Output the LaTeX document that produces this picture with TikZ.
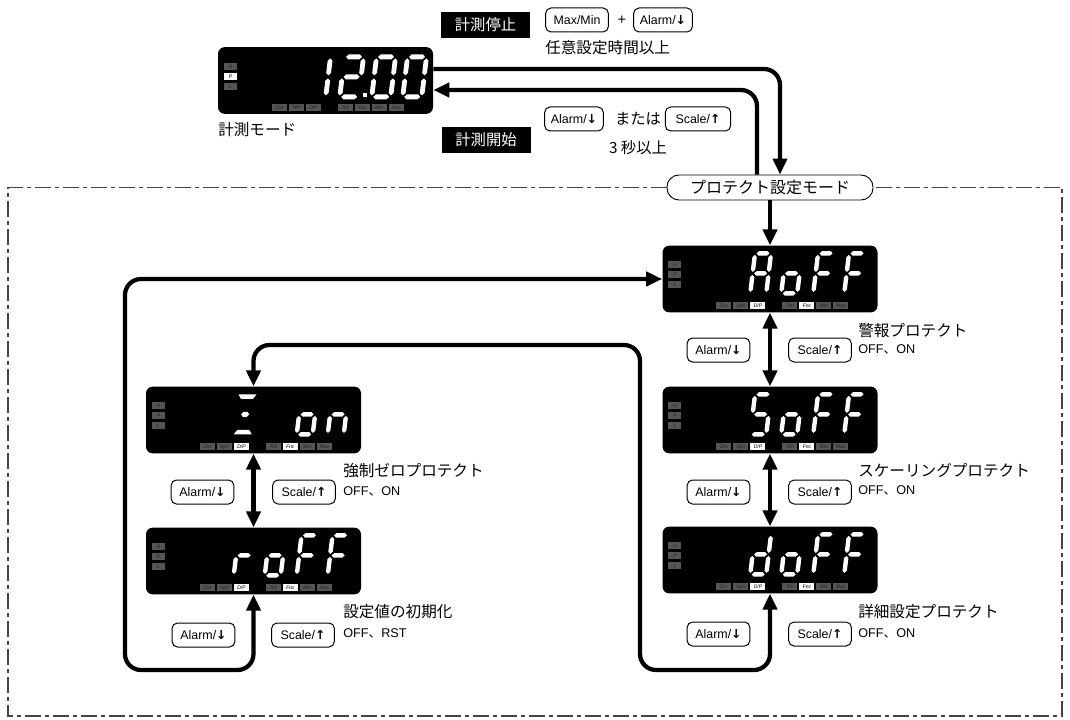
\documentclass[tikz,border=0pt]{standalone}
\usepackage{fontspec}
\setmainfont{Noto Sans CJK JP}
\newfontfamily\latf{Liberation Sans}
\newfontfamily\indf[FakeSlant=0.15]{Liberation Sans}
\newfontfamily\arf{DejaVu Sans}
\usetikzlibrary{arrows.meta,calc}
\definecolor{indg}{HTML}{555555}
\definecolor{indt}{HTML}{222222}
\definecolor{framec}{HTML}{444444}

\newcommand\segT{2.2}
\newcommand\dW{16}
\newcommand\dH{40}
\newcommand\hsg[3]{\fill[white] ({#1},{#3}) -- ({#1+\segT},{#3-\segT}) -- ({#2-\segT},{#3-\segT}) -- ({#2},{#3}) -- ({#2-\segT},{#3+\segT}) -- ({#1+\segT},{#3+\segT}) -- cycle;}
\newcommand\vsg[3]{\fill[white] ({#1},{#2}) -- ({#1+\segT},{#2+\segT}) -- ({#1+\segT},{#3-\segT}) -- ({#1},{#3}) -- ({#1-\segT},{#3-\segT}) -- ({#1-\segT},{#2+\segT}) -- cycle;}
\newcommand\sga{\hsg{1.5}{\dW-1.5}{-\dH}}
\newcommand\sgg{\hsg{1.5}{\dW-1.5}{-\dH/2}}
\newcommand\sgd{\hsg{1.5}{\dW-1.5}{0}}
\newcommand\sgf{\vsg{0}{-\dH+1.5}{-\dH/2-1.5}}
\newcommand\sge{\vsg{0}{-\dH/2+1.5}{-1.5}}
\newcommand\sgb{\vsg{\dW}{-\dH+1.5}{-\dH/2-1.5}}
\newcommand\sgc{\vsg{\dW}{-\dH/2+1.5}{-1.5}}
\newcommand\dig[3]{\begin{scope}[shift={(#1,#2)},xslant=0.12]\foreach \q in {#3}{\csname sg\q\endcsname}\end{scope}}
\newcommand\ibox[7]{\fill[#6] (#1,#2) rectangle ++(#3,#4); \node[inner sep=0pt, text=#7, font=\indf\fontsize{3.8}{4}\selectfont] at ({#1+#3/2},{#2+#4/2}) {#5};}
\newcommand\leds[6]{%
 \ibox{6}{16}{13}{7}{H}{indg}{indt}
 \ibox{6}{26}{13}{7}{P}{#1}{#2}
 \ibox{6}{36}{13}{7}{L}{indg}{indt}
 \ibox{54}{57}{15}{7}{Zro}{indg}{indt}
 \ibox{71}{57}{15}{7}{Spn}{indg}{indt}
 \ibox{88}{57}{15}{7}{D/P}{#3}{#4}
 \ibox{120}{57}{15}{7}{Tch}{indg}{indt}
 \ibox{137}{57}{15}{7}{Fnc}{#5}{#6}
 \ibox{154}{57}{15}{7}{Min}{indg}{indt}
 \ibox{171}{57}{15}{7}{Max}{indg}{indt}}
\newcommand\arD{{\arf\bfseries ↓}}
\newcommand\arU{{\arf\bfseries ↑}}

\begin{document}
\begin{tikzpicture}[x=0.75pt,y=-0.75pt,
  conn/.style={line width=3.2pt, rounded corners=12pt},
  tip/.style={-{Triangle[length=12pt,width=10.5pt]}},
  tips/.style={{Triangle[length=12pt,width=10.5pt]}-{Triangle[length=12pt,width=10.5pt]}},
  disp/.style={fill=black, rounded corners=5pt, minimum width=161.25pt, minimum height=50pt, inner sep=0pt},
  btn/.style={draw, line width=0.75pt, rounded corners=4pt, fill=white, minimum height=18pt, minimum width=47pt, inner xsep=3pt, inner ysep=0pt, font=\latf\fontsize{9.3}{11}\selectfont},
  blk/.style={fill=black, text=white, minimum width=66.75pt, minimum height=20pt, inner sep=0pt, font=\fontsize{11.5}{13}\selectfont},
  ttl/.style={anchor=west, inner sep=0pt, font=\fontsize{11.7}{13}\selectfont},
  sub/.style={anchor=west, inner sep=0pt, font=\latf\fontsize{9.5}{11}\selectfont},
  lbl/.style={inner sep=0pt, font=\fontsize{11.5}{13}\selectfont},
  frame/.style={draw=framec, line width=0.9pt, dash pattern=on 12pt off 3pt on 3pt off 3pt},
]
\useasboundingbox[fill=white] (0,0) rectangle (1070,720);

% dashed frame and mode label
\node[draw, line width=0.7pt, rounded corners=9pt, minimum width=154.5pt, minimum height=18.75pt, fill=white, inner sep=0pt, font=\fontsize{12}{14}\selectfont] (lbl) at (770,187.5) {プロテクト設定モード};
\draw[frame] (lbl.west) -- (8,187.5) -- (8,716) -- (1062,716) -- (1062,187.5) -- (lbl.east);

% displays
\node[disp] (m) at (325.5,80.5) {};
\node[disp] (a) at (770,279) {};
\node[disp] (s) at (770,420) {};
\node[disp] (d) at (770,560) {};
\node[disp] (o) at (253.5,420) {};
\node[disp] (r) at (253.5,561) {};

\begin{scope}[shift={(m.north west)}]
 \leds{white}{black}{indg}{indt}{indg}{indt}
 \def\dW{19}\def\segT{2.4}
 \dig{89}{50}{b,c}
 \dig{122}{50}{a,b,g,e,d}
 \fill[white] (145,46) rectangle (149.5,50);
 \dig{154}{50}{a,b,c,d,e,f}
 \dig{185}{50}{a,b,c,d,e,f}
\end{scope}
\begin{scope}[shift={(a.north west)}]
 \leds{indg}{indt}{white}{black}{white}{black}
 \dig{88}{48}{a,b,c,e,f,g}
 \dig{119}{48}{c,d,e,g}
 \dig{151}{48}{a,e,f,g}
 \dig{182}{48}{a,e,f,g}
\end{scope}
\begin{scope}[shift={(s.north west)}]
 \leds{indg}{indt}{white}{black}{white}{black}
 \dig{88}{48}{a,f,g,c,d}
 \dig{119}{48}{c,d,e,g}
 \dig{151}{48}{a,e,f,g}
 \dig{182}{48}{a,e,f,g}
\end{scope}
\begin{scope}[shift={(d.north west)}]
 \leds{indg}{indt}{white}{black}{white}{black}
 \dig{88}{48}{b,c,d,e,g}
 \dig{119}{48}{c,d,e,g}
 \dig{151}{48}{a,e,f,g}
 \dig{182}{48}{a,e,f,g}
\end{scope}
\begin{scope}[shift={(o.north west)}]
 \leds{indg}{indt}{white}{black}{white}{black}
 \begin{scope}[shift={(88,48)},xslant=0.12]
  \fill[white] (0,-40) -- (18,-40) -- (15,-35.5) -- (3,-35.5) -- cycle;
  \fill[white] (5,-20) -- (7,-22.5) -- (11,-22.5) -- (13,-20) -- (11,-17.5) -- (7,-17.5) -- cycle;
  \fill[white] (3,-4.5) -- (15,-4.5) -- (18,0) -- (0,0) -- cycle;
 \end{scope}
 \dig{151}{48}{c,d,e,g}
 \dig{182}{48}{c,e,g}
\end{scope}
\begin{scope}[shift={(r.north west)}]
 \leds{indg}{indt}{white}{black}{white}{black}
 \dig{88}{48}{e,g}
 \dig{119}{48}{c,d,e,g}
 \dig{151}{48}{a,e,f,g}
 \dig{182}{48}{a,e,f,g}
\end{scope}

\node[ttl] (mm) at (218,130) {計測モード};

% top labels
\node[blk] (stop) at (485.5,25) {計測停止};
\node[btn] (b1) at (577,20) {Max/Min};
\node[inner sep=0pt, font=\latf\fontsize{11}{12}\selectfont] (plus) at (622,20) {+};
\node[btn, minimum width=44pt] (b2) at (663,20) {Alarm/\arD};
\node[ttl] (t1) at (545,48) {任意設定時間以上};
\node[blk] (start) at (486,140) {計測開始};
\node[btn, minimum width=44pt] (b3) at (574,119) {Alarm/\arD};
\node[lbl] (mata) at (638,119) {または};
\node[btn, minimum width=49pt] (b4) at (698,119) {Scale/\arU};
\node[lbl] (sec) at (638,148) {3 秒以上};

% connectors
\draw[conn,tip] ($(m.east)+(0,-11.5)$) -| ($(lbl.north)+(10,0)$);
\draw[conn,tip] ($(lbl.north)+(-13,0)$) |- ($(m.east)+(0,9.5)$);
\draw[conn,tip] (lbl.south) -- (a.north);
\draw[conn,tips] (a.south) -- (s.north);
\draw[conn,tips] (s.south) -- (d.north);
\draw[conn,tips] (o.south) -- (r.north);
\coordinate (lb) at (125,670);
\coordinate (rb) at (640,670);
\coordinate (rt) at (640,345);
\draw[conn,tips] (r.south) |- (lb) |- (a.west);
\draw[conn,tips] (d.south) |- (rb) -- (rt) -| (o.north);

% right column
\node[btn] (ra1) at (718.5,350) {Alarm/\arD};
\node[btn] (rs1) at (820,350) {Scale/\arU};
\node[ttl] (rt1) at (858,331) {警報プロテクト};
\node[sub] (ro1) at (858,349) {OFF{\normalfont 、}ON};
\node[btn] (ra2) at (718.5,492) {Alarm/\arD};
\node[btn] (rs2) at (820,492) {Scale/\arU};
\node[ttl] (rt2) at (858,470) {スケーリングプロテクト};
\node[sub] (ro2) at (858,490) {OFF{\normalfont 、}ON};
\node[btn] (ra3) at (718.5,634) {Alarm/\arD};
\node[btn] (rs3) at (820,634) {Scale/\arU};
\node[ttl] (rt3) at (858,612) {詳細設定プロテクト};
\node[sub] (ro3) at (858,633) {OFF{\normalfont 、}ON};

% left column
\node[btn] (la1) at (202.5,492) {Alarm/\arD};
\node[btn] (ls1) at (304,492) {Scale/\arU};
\node[ttl] (lt1) at (343,471) {強制ゼロプロテクト};
\node[sub] (lo1) at (343,491) {OFF{\normalfont 、}ON};
\node[btn] (la2) at (203.5,635) {Alarm/\arD};
\node[btn] (ls2) at (303,635) {Scale/\arU};
\node[ttl] (lt2) at (343,612) {設定値の初期化};
\node[sub] (lo2) at (343,633) {OFF{\normalfont 、}RST};
\end{tikzpicture}
\end{document}
